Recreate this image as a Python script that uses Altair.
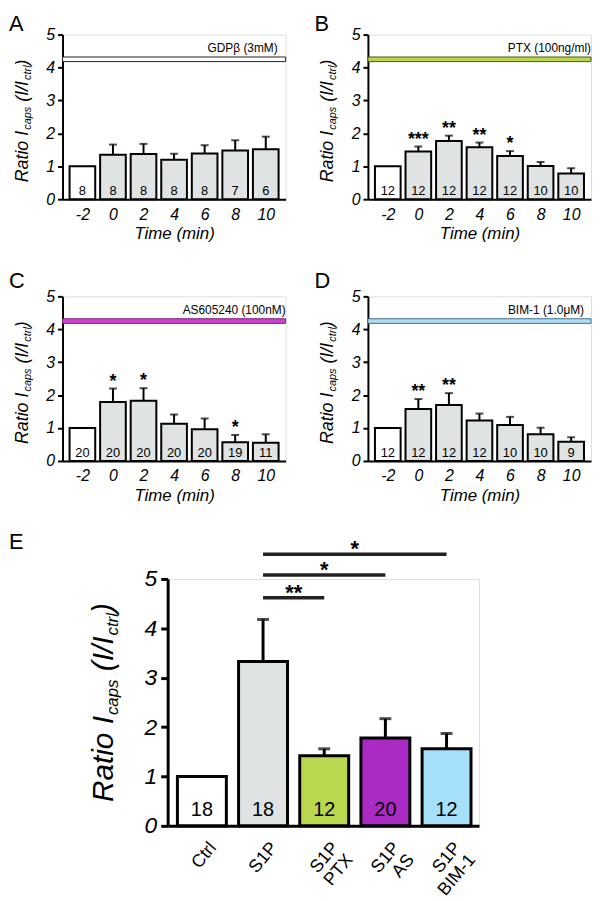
import json
import altair as alt
import pandas as pd

FONT = "Liberation Sans"

# ---------------- data ----------------
times = [-2, 0, 2, 4, 6, 8, 10]

A_mean = [1.00, 1.35, 1.37, 1.20, 1.39, 1.48, 1.52]
A_sem = [0.00, 0.31, 0.31, 0.18, 0.25, 0.31, 0.38]
A_n = [8, 8, 8, 8, 8, 7, 6]
A_sig = ["", "", "", "", "", "", ""]
A_treat = "GDPβ (3mM)"

B_mean = [1.00, 1.45, 1.77, 1.58, 1.31, 1.01, 0.78]
B_sem = [0.00, 0.15, 0.16, 0.14, 0.15, 0.12, 0.16]
B_n = [12, 12, 12, 12, 12, 10, 10]
B_sig = ["", "***", "**", "**", "*", "", ""]
B_treat = "PTX (100ng/ml)"

C_mean = [1.00, 1.79, 1.83, 1.13, 0.96, 0.57, 0.55]
C_sem = [0.00, 0.41, 0.38, 0.28, 0.33, 0.22, 0.26]
C_n = [20, 20, 20, 20, 20, 19, 11]
C_sig = ["", "*", "*", "", "", "*", ""]
C_treat = "AS605240 (100nM)"

D_mean = [1.00, 1.58, 1.70, 1.23, 1.09, 0.81, 0.58]
D_sem = [0.00, 0.30, 0.36, 0.21, 0.25, 0.20, 0.14]
D_n = [12, 12, 12, 12, 10, 10, 9]
D_sig = ["", "**", "**", "", "", "", ""]
D_treat = "BIM-1 (1.0μM)"

treat_band = [4.18, 4.32]
y_ticks = [0, 1, 2, 3, 4, 5]

E_groups = ["Ctrl", "S1P", "S1P PTX", "S1P AS", "S1P BIM-1"]
E_label_lines = [["Ctrl"], ["S1P"], ["S1P", "PTX"], ["S1P", "AS"], ["S1P", "BIM-1"]]
E_mean = [1.00, 3.33, 1.42, 1.78, 1.56]
E_sem = [0.00, 0.85, 0.14, 0.39, 0.31]
E_n = [18, 18, 12, 20, 12]
E_cmp_from = [1, 1, 1]
E_cmp_to = [2, 3, 4]
E_cmp_y = [4.62, 5.08, 5.50]
E_cmp_sig = ["**", "*", "*"]

# ---------------- styles ----------------
GRAY = "#dfe3e3"
E_colors = ["#ffffff", "#dfe3e3", "#b9d84f", "#a92bc3", "#a6e0fa"]

W, H = 225, 166
X_DOM = [-3.3, 11.3]
HALF = 0.84
EW, EH = 314, 249
E_XDOM = [-0.56, 4.53]
E_HALF = 0.4

one = pd.DataFrame({"k": [0]})

ARIAL = {'R': .722, 'a': .556, 't': .278, 'i': .222, 'o': .556, ' ': .278, 'I': .278,
         'c': .5, 'p': .556, 's': .5, '(': .333, '/': .278, ')': .333, 'r': .333, 'l': .222}


def tw(s, fs):
    return sum(ARIAL.get(ch, .55) for ch in s) * fs


def ytitle(x0, y0, main, sub, shift):
    # (text, font size, baseline shift, gap before)
    pieces = [("Ratio I", main, 0, 0), ("caps", sub, shift, 1.0),
              ("(I/I", main, 0, 0.278 * main), ("ctrl", sub, shift, 1.0), (")", main, 0, 0)]
    layers = []
    off = 0.0
    for txt, fs, dy, gap in pieces:
        off += gap
        layers.append(
            alt.Chart(one).mark_text(text=txt, font=FONT, fontSize=fs, fontStyle="italic",
                                     angle=270, align="left", baseline="alphabetic",
                                     dx=off, dy=dy, color="black")
            .encode(x=alt.value(x0), y=alt.value(y0)))
        off += tw(txt, fs)
    return layers


def letter_layer(letter, x, y):
    return alt.Chart(one).mark_text(text=letter, fontSize=22, align="left", baseline="top",
                                    color="black").encode(x=alt.value(x), y=alt.value(y))


def panel(letter, mean, sem, n, sig, treat, tfill, tstroke, ldx, letter_y):
    df = pd.DataFrame({"t": times, "mean": mean, "sem": sem, "n": n, "sig": sig})
    df["top"] = df["mean"] + df["sem"]
    df["lo"] = df["t"] - HALF
    df["hi"] = df["t"] + HALF
    df["base"] = 0.0
    df["fillc"] = ["white" if t == times[0] else GRAY for t in times]
    xs = alt.Scale(domain=X_DOM, nice=False, zero=False)
    ys = alt.Scale(domain=[0, 5], nice=False)
    base = alt.Chart(df)
    bars = base.mark_rect(stroke="black", strokeWidth=2).encode(
        x=alt.X("lo:Q", scale=xs, axis=alt.Axis(
            values=times, tickCount=len(times), labelExpr="'' + datum.value", ticks=False,
            grid=False, domainColor="black", domainWidth=2, labelFontSize=16,
            labelFontStyle="italic", labelColor="black", labelPadding=7, labelFlush=False,
            labelOverlap=False, title="Time (min)", titleFontSize=17, titleFontStyle="italic",
            titleFontWeight="normal", titleColor="black", titlePadding=4)),
        x2="hi:Q",
        y=alt.Y("mean:Q", scale=ys, axis=alt.Axis(
            values=y_ticks, tickCount=len(y_ticks), title=None, grid=False,
            domainColor="black", domainWidth=2, tickColor="black", tickWidth=2, tickSize=5,
            labelFontSize=16, labelFontStyle="italic", labelColor="black", labelPadding=3,
            labelOverlap=False)),
        y2="base:Q",
        fill=alt.Fill("fillc:N", scale=None))
    eb = base.transform_filter("datum.sem > 0")
    err = eb.mark_rule(color="black", strokeWidth=2).encode(
        x="t:Q", y="mean:Q", y2="top:Q")
    cap = eb.mark_tick(orient="horizontal", size=8, thickness=2, color="black").encode(
        x="t:Q", y="top:Q")
    ntxt = base.mark_text(fontSize=13, dy=-4, baseline="alphabetic", color="black").encode(
        x="t:Q", y="base:Q", text="n:Q")
    stars = base.transform_filter("datum.sig != ''").mark_text(
        fontSize=18, fontWeight="bold", dy=-2, baseline="alphabetic", color="black").encode(
        x="t:Q", y="top:Q", text="sig:N")
    tdf = pd.DataFrame({"y1": [treat_band[0]], "y2": [treat_band[1]]})
    tband = alt.Chart(tdf).mark_rect(fill=tfill, stroke=tstroke, strokeWidth=1).encode(
        x=alt.value(0), x2=alt.value(W), y="y1:Q", y2="y2:Q")
    tlabel = alt.Chart(one).mark_text(text=treat, fontSize=12, align="right",
                                      baseline="alphabetic", color="black").encode(
        x=alt.value(W + ldx), y=alt.datum(4.47))
    let = letter_layer(letter, -54, letter_y)
    layers = [tband, bars, err, cap, ntxt, stars, tlabel, let] + ytitle(-35, 149, 18, 11, 3)
    return alt.layer(*layers).properties(width=W, height=H)


A = panel("A", A_mean, A_sem, A_n, A_sig, A_treat, "#ffffff", "#222222", -8, -21)
B = panel("B", B_mean, B_sem, B_n, B_sig, B_treat, "#bcd64b", "#4b5520", 0, -21)
C = panel("C", C_mean, C_sem, C_n, C_sig, C_treat, "#cc44cc", "#7a1f7a", 0, -25)
D = panel("D", D_mean, D_sem, D_n, D_sig, D_treat, "#b2dcf0", "#3d6f8f", -7, -25)

# ---------------- panel E ----------------
edf = pd.DataFrame({"i": list(range(len(E_groups))), "g": E_groups, "mean": E_mean,
                    "sem": E_sem, "n": E_n})
edf["top"] = edf["mean"] + edf["sem"]
edf["lo"] = edf["i"] - E_HALF
edf["hi"] = edf["i"] + E_HALF
edf["base"] = 0.0
edf["fillc"] = E_colors
exs = alt.Scale(domain=E_XDOM, nice=False, zero=False)
eys = alt.Scale(domain=[0, 5], nice=False)
ebase = alt.Chart(edf)
ebars = ebase.mark_rect(stroke="black", strokeWidth=3).encode(
    x=alt.X("lo:Q", scale=exs, axis=alt.Axis(
        values=list(range(len(E_groups))), tickCount=len(E_groups),
        labelExpr=json.dumps(E_label_lines) + "[datum.value]",
        ticks=False, tickSize=0, grid=False, domainColor="black", domainWidth=3,
        labelAngle=-50, labelAlign="right", labelBaseline="top", labelFontSize=18,
        labelLineHeight=19, labelColor="black", labelPadding=13, labelOffset=4,
        labelFlush=False, labelOverlap=False, title=None)),
    x2="hi:Q",
    y=alt.Y("mean:Q", scale=eys, axis=alt.Axis(
        values=y_ticks, tickCount=len(y_ticks), title=None, grid=False, domainColor="black",
        domainWidth=3, tickColor="black", tickWidth=3, tickSize=7,
        labelFontSize=23, labelFontStyle="italic", labelColor="black", labelPadding=4,
        labelOverlap=False)),
    y2="base:Q",
    fill=alt.Fill("fillc:N", scale=None))
eeb = ebase.transform_filter("datum.sem > 0")
eerr = eeb.mark_rule(color="black", strokeWidth=3).encode(x="i:Q", y="mean:Q", y2="top:Q")
ecap = eeb.mark_tick(orient="horizontal", size=12, thickness=3, color="black").encode(
    x="i:Q", y="top:Q")
entxt = ebase.mark_text(fontSize=20, dy=-10, baseline="alphabetic", color="black").encode(
    x="i:Q", y="base:Q", text="n:Q")
cdf = pd.DataFrame({"x1": E_cmp_from, "x2": E_cmp_to, "y": E_cmp_y, "sig": E_cmp_sig})
cdf["mid"] = (cdf["x1"] + cdf["x2"]) / 2
crule = alt.Chart(cdf).mark_rule(color="#222222", strokeWidth=3.5).encode(
    x="x1:Q", x2="x2:Q", y="y:Q")
cstar = alt.Chart(cdf).mark_text(fontSize=22, fontWeight="bold", dy=2, baseline="alphabetic",
                                 color="black").encode(x="mid:Q", y="y:Q", text="sig:N")
E = alt.layer(ebars, eerr, ecap, entxt, crule, cstar,
              *ytitle(-55, 225, 30, 17, 5)).properties(width=EW, height=EH)

spacerE = letter_layer("E", -54, -47).properties(
    width=106, height=EH, view=alt.ViewBackground(stroke=None, strokeOpacity=0))

row1 = alt.hconcat(A, B, spacing=27)
row2 = alt.hconcat(C, D, spacing=27)
rowE = alt.hconcat(spacerE, E, spacing=0, bounds="flush")

chart = alt.vconcat(row1, row2, rowE, spacing=27).properties(
    padding=0).configure_view(stroke=None).configure(font=FONT)

chart.save("out.html", embed_options={"renderer": "svg", "actions": False})
